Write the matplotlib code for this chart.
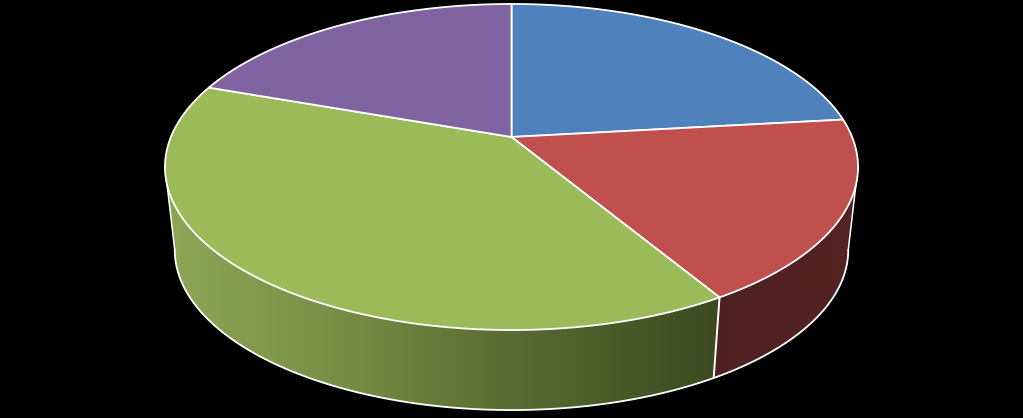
import numpy as np
import matplotlib
matplotlib.use("Agg")
import matplotlib.pyplot as plt
from matplotlib.patches import Polygon

# Slice shares, clockwise from 12 o'clock (no labels in the picture)
categories = ['Blue', 'Red', 'Green', 'Purple']
shares = [23.2, 18.2, 39.0, 19.6]
top_colors = ['#4f81bd', '#c0504d', '#9bbb59', '#8064a2']

# Wall shading, left to right across the image (only red and green walls show)
red_wall_x = [700, 860]
red_wall_rgb = [(78, 33, 32), (84, 35, 34)]
green_wall_x = [165, 350, 510, 715]
green_wall_rgb = [(140, 168, 86), (118, 140, 68), (88, 108, 50), (60, 74, 32)]

# Perspective camera for the disc
PERSP = 0.184
CX = 511.5
TOP = (340.6, 157.5, 137.0)
BOTTOM = (331.0, 154.6, 220.6)
FRONT_LIMIT = np.degrees(np.arccos(-PERSP))


def project(theta_deg, face, radius=1.0):
    # theta is clockwise from the far point of the disc
    t = np.radians(theta_deg)
    px = radius * np.sin(t)
    py = radius * np.cos(t)
    w = 1 + PERSP * py
    return CX + face[0] * px / w, face[2] - face[1] * py / w


def draw_wall(ax, a0, a1, stops_x, stops_rgb):
    thetas = np.linspace(a0, a1, 200)
    xt, yt = project(thetas, TOP)
    xb, yb = project(thetas, BOTTOM)
    outline = np.c_[np.r_[xt, xb[::-1]], np.r_[yt, yb[::-1]]]
    patch = Polygon(outline, closed=True, facecolor='none', edgecolor='none', transform=ax.transData)
    ax.add_patch(patch)

    # Horizontal gradient, cut to the wall shape
    cols = np.arange(0, 1023)
    rgb = np.array(stops_rgb) / 255
    grad = np.stack([np.interp(cols, stops_x, rgb[:, c]) for c in range(3)], axis=-1)[np.newaxis, :, :]
    im = ax.imshow(grad, extent=(0, 1023, 418, 0), aspect='auto', interpolation='bilinear', zorder=1)
    im.set_clip_path(patch)


fig = plt.figure(figsize=(10.23, 4.18), dpi=100, facecolor='black')
ax = fig.add_axes([0, 0, 1, 1])

edges = np.concatenate([[0], np.cumsum(shares)]) / np.sum(shares) * 360

# Walls first, the top faces paint over whatever is behind them
draw_wall(ax, FRONT_LIMIT, edges[2], red_wall_x, red_wall_rgb)
draw_wall(ax, edges[2], 360 - FRONT_LIMIT, green_wall_x, green_wall_rgb)

ax.set_xlim(0, 1023)
ax.set_ylim(418, 0)
ax.axis('off')

# Outline of the side: bottom rim and the two silhouette edges
rim = np.linspace(FRONT_LIMIT, 360 - FRONT_LIMIT, 300)
rx, ry = project(rim, BOTTOM)
ax.plot(rx, ry, color='white', lw=1.3, zorder=2)
for a in [FRONT_LIMIT, 360 - FRONT_LIMIT]:
    x0, y0 = project(a, TOP)
    x1, y1 = project(a, BOTTOM)
    ax.plot([x0, x1], [y0, y1], color='white', lw=1.1, zorder=2)

# Slice boundary down the front wall
x0, y0 = project(edges[2], TOP)
x1, y1 = project(edges[2], BOTTOM)
ax.plot([x0, x1], [y0, y1], color='white', lw=1.4, zorder=2, solid_capstyle='round')

# Top faces
for i in range(len(categories)):
    thetas = np.linspace(edges[i], edges[i + 1], 200)
    x, y = project(thetas, TOP)
    apex_x, apex_y = project(0.0, TOP, radius=0.0)
    ax.fill(np.r_[apex_x, x], np.r_[apex_y, y], facecolor=top_colors[i], edgecolor='white', lw=1.3,
            joinstyle='round', zorder=3)

fig.savefig('out.png', dpi=100, facecolor='black')
